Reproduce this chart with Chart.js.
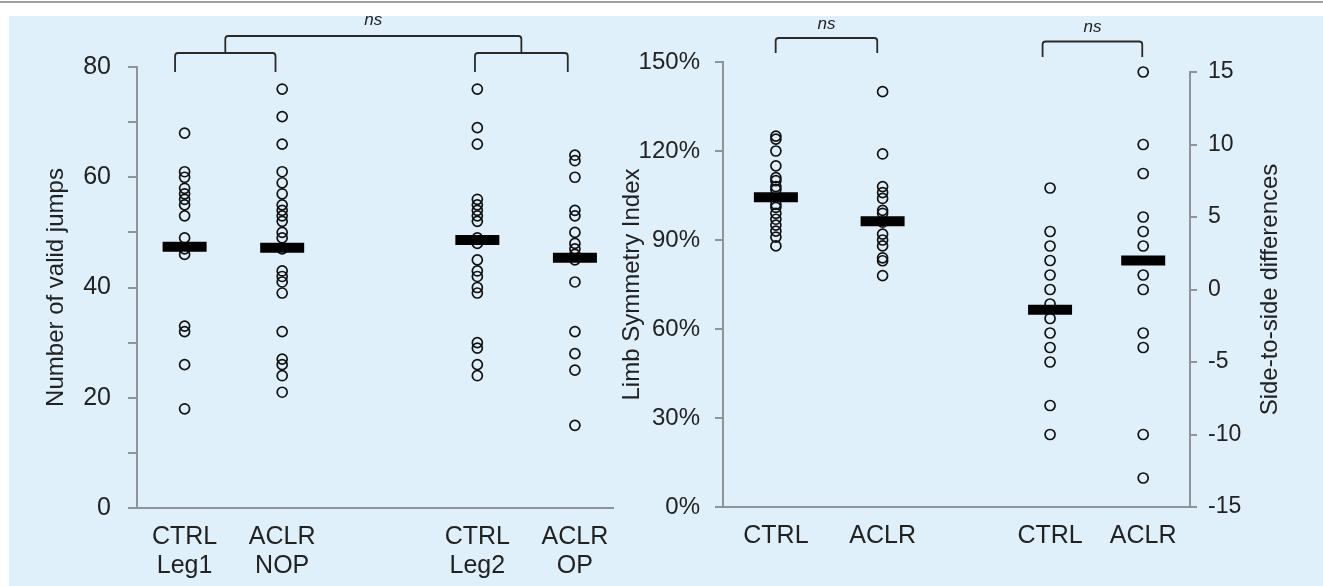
<!DOCTYPE html>
<html>
<head>
<meta charset="utf-8">
<script src="https://cdn.jsdelivr.net/npm/chart.js@4.4.1/dist/chart.umd.min.js"></script>
<style>
    body { margin: 0; background: #fff; }
    #fig { position: relative; width: 1323px; height: 586px; overflow: hidden; }
    #rule { position: absolute; left: 0; top: 1px; width: 1323px; height: 2px; background: #a0a0a0; }
    #panel { position: absolute; left: 9px; top: 16px; right: 0; bottom: 0; background: #e0f0fa; }
    canvas { position: absolute; top: 0; }
</style>
</head>
<body>
<div id="fig">
    <div id="rule"></div>
    <div id="panel"></div>
    <canvas id="jumps" width="620" height="586" style="left:0"></canvas>
    <canvas id="lsi" width="341" height="586" style="left:615px"></canvas>
    <canvas id="ssd" width="367" height="586" style="left:956px"></canvas>
</div>
<script>
// --- data ---
var jumpLabels = [['CTRL', 'Leg1'], ['ACLR', 'NOP'], ['CTRL', 'Leg2'], ['ACLR', 'OP']];
var ctrlLeg1 = [68, 61, 60, 58, 57, 56, 55, 53, 49, 47, 46, 33, 32, 26, 18];
var aclrNop = [76, 71, 66, 61, 59, 57, 55, 54, 53, 52, 50, 49, 47, 43, 42, 41, 39, 32, 27, 26, 24, 21];
var ctrlLeg2 = [76, 69, 66, 56, 55, 54, 53, 52, 49, 48, 45, 43, 42, 40, 39, 30, 29, 26, 24];
var aclrOp = [64, 63, 60, 54, 53, 50, 48, 47, 46, 45, 41, 32, 28, 25, 15];
var jumpMeans = [47.4, 47.2, 48.6, 45.4];
var jumpTicks = [0, 20, 40, 60, 80];

var groupLabels = ['CTRL', 'ACLR'];
var lsiCtrl = [125, 124, 120, 115, 111, 110, 108, 107, 102, 101, 99, 97, 95, 93, 91, 88];
var lsiAclr = [140, 119, 108, 106, 104, 100, 99, 96, 92, 90, 88, 84, 83, 78];
var lsiMeans = [104.4, 96.3];
var lsiTicks = [0, 30, 60, 90, 120, 150];

var ssdCtrl = [7, 4, 3, 2, 1, 0, -1, -2, -3, -4, -5, -8, -10];
var ssdAclr = [15, 10, 8, 5, 4, 3, 1, 0, -3, -4, -10, -13];
var ssdMeans = [-1.4, 2.0];
var ssdTicks = [-15, -10, -5, 0, 5, 10, 15];

// --- layout ---
var FONT = '"Liberation Sans", Arial, sans-serif';
var AXIS = '#8d959b';
var INK = '#222';
var jumpPos = [1, 3.05, 7.15, 9.2];
var lsiPos = [2.27, 6.85];
var ssdPos = [4.02, 8.0];

// brackets, "ns" and rotated axis titles
var decor = {
    id: 'decor',
    afterDraw: function (chart, args, o) {
        var ctx = chart.ctx, xs = chart.scales.x, ys = chart.scales.y;
        ctx.save();
        ctx.strokeStyle = '#2a2a2a';
        ctx.lineWidth = 1.8;
        ctx.lineJoin = 'round';
        var mid = 0;
        o.brackets.forEach(function (b) {
            var x1 = xs.getPixelForValue(b[0]), x2 = xs.getPixelForValue(b[1]);
            ctx.beginPath();
            ctx.moveTo(x1, b[3]);
            ctx.arcTo(x1, b[2], x2, b[2], 3);
            ctx.arcTo(x2, b[2], x2, b[3], 3);
            ctx.lineTo(x2, b[3]);
            ctx.stroke();
            mid = (x1 + x2) / 2;
        });
        ctx.fillStyle = INK;
        ctx.textAlign = 'center';
        ctx.textBaseline = 'middle';
        ctx.font = 'italic 17px ' + FONT;
        ctx.fillText('ns', mid, o.nsY);

        ctx.font = '24px ' + FONT;
        ctx.translate(o.titleX, (ys.top + ys.bottom) / 2);
        ctx.rotate(-Math.PI / 2);
        ctx.fillText(o.title, 0, 0);
        ctx.restore();
    }
};

function dotSets(groups, means, pos) {
    var sets = [{
        data: means.map(function (m, i) { return {x: pos[i], y: m}; }),
        pointStyle: 'line', pointRadius: 22, pointBorderWidth: 10,
        pointBorderColor: '#000', clip: false
    }];
    groups.forEach(function (g, i) {
        sets.push({
            data: g.map(function (v) { return {x: pos[i], y: v}; }),
            pointStyle: 'circle', pointRadius: 5, pointBorderWidth: 1.7,
            pointBorderColor: '#111', pointBackgroundColor: 'rgba(0,0,0,0)', clip: false
        });
    });
    return sets;
}

function dotPanel(id, p) {
    return new Chart(document.getElementById(id), {
        type: 'scatter',
        data: {datasets: dotSets(p.groups, p.means, p.pos)},
        plugins: [decor],
        options: {
            responsive: false,
            animation: false,
            devicePixelRatio: 1,
            events: [],
            layout: {padding: p.padding, autoPadding: false},
            plugins: {legend: {display: false}, tooltip: {enabled: false}, decor: p.decor},
            scales: {
                x: {
                    type: 'linear', min: 0, max: 10,
                    afterBuildTicks: function (s) { s.ticks = p.pos.map(function (v) { return {value: v}; }); },
                    afterFit: function (s) { s.height = p.xHeight; },
                    grid: {display: false},
                    border: {display: true, color: AXIS, width: 2},
                    ticks: {
                        autoSkip: false, maxRotation: 0, padding: 7, color: INK,
                        font: {family: FONT, size: 25, lineHeight: 1.15},
                        callback: function (v, i) { return p.labels[i]; }
                    }
                },
                y: {
                    type: 'linear', position: p.side, min: p.min, max: p.max,
                    afterFit: function (s) { s.width = p.yWidth; },
                    grid: {drawOnChartArea: false, drawTicks: true, tickLength: p.tickLen, color: AXIS, lineWidth: 2},
                    border: {display: true, color: AXIS, width: 2},
                    ticks: {
                        stepSize: p.step, padding: p.tickPad, color: INK,
                        font: {family: FONT, size: p.tickSize},
                        callback: p.fmt
                    }
                }
            }
        }
    });
}

dotPanel('jumps', {
    groups: [ctrlLeg1, aclrNop, ctrlLeg2, aclrOp], means: jumpMeans, pos: jumpPos, labels: jumpLabels,
    padding: {top: 67, right: 7, left: 0, bottom: 0}, xHeight: 78, yWidth: 137,
    side: 'left', min: 0, max: 80, step: 10, tickLen: 9, tickPad: 17, tickSize: 25,
    fmt: function (v) { return jumpTicks.indexOf(v) >= 0 ? String(v) : ''; },
    decor: {
        brackets: [[0.8, 2.91, 53, 72], [7.1, 9.05, 53, 72], [1.855, 8.075, 36, 53]],
        nsY: 20, titleX: 56, title: 'Number of valid jumps'
    }
});

dotPanel('lsi', {
    groups: [lsiCtrl, lsiAclr], means: lsiMeans, pos: lsiPos, labels: groupLabels,
    padding: {top: 62, right: 0, left: 0, bottom: 0}, xHeight: 79, yWidth: 108,
    side: 'left', min: 0, max: 150, step: 30, tickLen: 8, tickPad: 15, tickSize: 24,
    fmt: function (v) { return lsiTicks.indexOf(v) >= 0 ? v + '%' : ''; },
    decor: {
        brackets: [[2.26, 6.62, 38, 53]],
        nsY: 24.5, titleX: 17, title: 'Limb Symmetry Index'
    }
});

dotPanel('ssd', {
    groups: [ssdCtrl, ssdAclr], means: ssdMeans, pos: ssdPos, labels: groupLabels,
    padding: {top: 72, right: 0, left: 0, bottom: 0}, xHeight: 79, yWidth: 133,
    side: 'right', min: -15, max: 15, step: 5, tickLen: 7, tickPad: 11, tickSize: 23,
    fmt: function (v) { return ssdTicks.indexOf(v) >= 0 ? String(v) : ''; },
    decor: {
        brackets: [[3.7, 7.96, 41.5, 57]],
        nsY: 27.5, titleX: 314, title: 'Side-to-side differences'
    }
});
</script>
</body>
</html>
